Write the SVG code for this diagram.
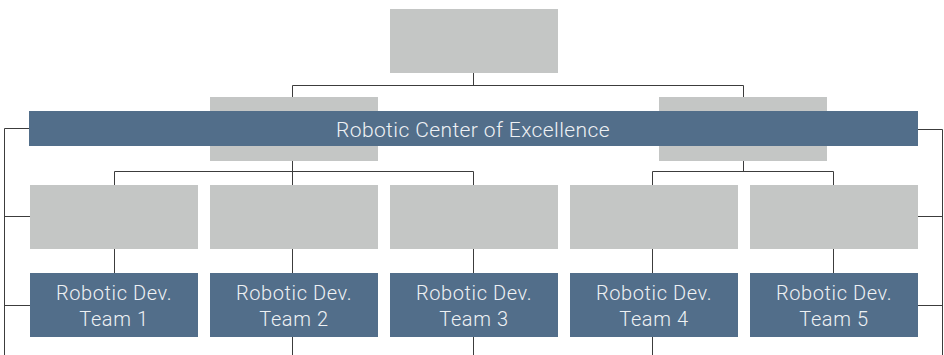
<svg xmlns="http://www.w3.org/2000/svg" width="944" height="355" viewBox="0 0 944 355">
  <style>
    .ph { fill: #c4c6c5; }
    .team { fill: #526e8a; }
    .lbl { fill: #eef1f4; font-family: Roboto, "Liberation Sans", sans-serif; font-weight: 300; font-size: 20px; letter-spacing: 0.6px; text-anchor: middle; }
    .banner { font-size: 21px; letter-spacing: 0.4px; }
    .wire { fill: none; stroke: #3c3c3c; stroke-width: 1; }
  </style>
  <rect width="944" height="355" fill="#ffffff"/>

  <!-- connectors -->
  <g id="connectors" class="wire">
    <path d="M473.5 73 V85.5 M292.5 97 V85.5 H743.5 V97"/>
    <path d="M292.5 160 V171.5 M114.5 185 V171.5 H473.5 V185 M292.5 171.5 V185"/>
    <path d="M743.5 160 V171.5 M652.5 185 V171.5 H833.5 V185"/>
    <path d="M114.5 249 V273 M292.5 249 V273 M473.5 249 V273 M652.5 249 V273 M833.5 249 V273"/>
    <path d="M292.5 337 V355 M473.5 337 V355 M652.5 337 V355"/>
    <path d="M29 128.5 H4.5 V355 M4.5 216.5 H30 M4.5 305.5 H30"/>
    <path d="M918 129.5 H942.5 V355 M942.5 216.5 H918 M942.5 305.5 H918"/>
  </g>

  <g id="top"><rect class="ph" x="390" y="9" width="168" height="64"/></g>
  <g id="mid-left"><rect class="ph" x="210" y="97" width="168" height="64"/></g>
  <g id="mid-right"><rect class="ph" x="659" y="97" width="168" height="64"/></g>

  <g id="coe">
    <rect class="team" x="29" y="111" width="889" height="35"/>
    <text class="lbl banner" x="473" y="137">Robotic Center of Excellence</text>
  </g>

  <g id="ph1"><rect class="ph" x="30" y="185" width="168" height="64"/></g>
  <g id="ph2"><rect class="ph" x="210" y="185" width="168" height="64"/></g>
  <g id="ph3"><rect class="ph" x="390" y="185" width="168" height="64"/></g>
  <g id="ph4"><rect class="ph" x="570" y="185" width="168" height="64"/></g>
  <g id="ph5"><rect class="ph" x="750" y="185" width="168" height="64"/></g>

  <g id="team1">
    <rect class="team" x="30" y="273" width="168" height="64"/>
    <text class="lbl" x="114" y="300">Robotic Dev.<tspan x="114" y="326">Team 1</tspan></text>
  </g>
  <g id="team2">
    <rect class="team" x="210" y="273" width="168" height="64"/>
    <text class="lbl" x="294" y="300">Robotic Dev.<tspan x="294" y="326">Team 2</tspan></text>
  </g>
  <g id="team3">
    <rect class="team" x="390" y="273" width="168" height="64"/>
    <text class="lbl" x="474" y="300">Robotic Dev.<tspan x="474" y="326">Team 3</tspan></text>
  </g>
  <g id="team4">
    <rect class="team" x="570" y="273" width="168" height="64"/>
    <text class="lbl" x="654" y="300">Robotic Dev.<tspan x="654" y="326">Team 4</tspan></text>
  </g>
  <g id="team5">
    <rect class="team" x="750" y="273" width="168" height="64"/>
    <text class="lbl" x="834" y="300">Robotic Dev.<tspan x="834" y="326">Team 5</tspan></text>
  </g>
</svg>
